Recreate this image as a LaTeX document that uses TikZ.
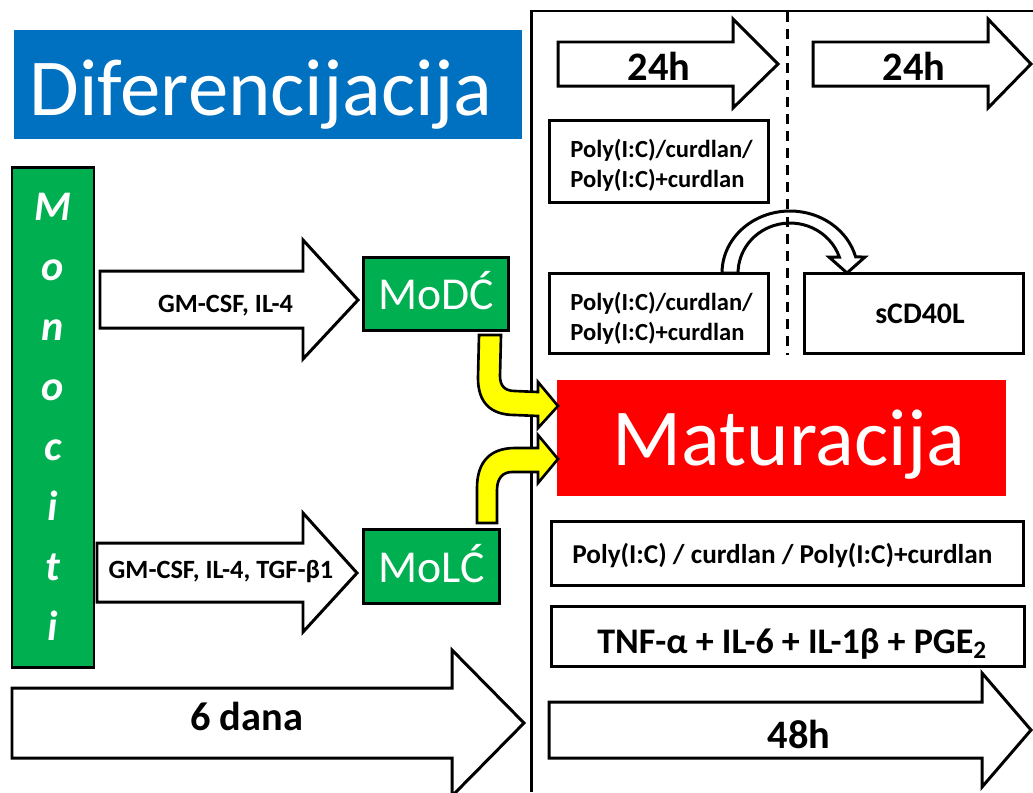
\documentclass[tikz,border=0pt]{standalone}
\usepackage{fontspec}
\setmainfont{Carlito}
\definecolor{blueT}{HTML}{0070C0}
\definecolor{greenB}{HTML}{00B050}
\definecolor{redM}{HTML}{FF0000}
\definecolor{yellowA}{HTML}{FFFF00}
\begin{document}
\begin{tikzpicture}[x=0.02cm,y=-0.02cm,
  sz/.style 2 args={minimum width=#1*0.02cm, minimum height=#2*0.02cm},
  box/.style={draw, line width=1.7pt, fill=white, inner sep=0pt},
  gbox/.style={draw, line width=1.7pt, fill=greenB, inner sep=0pt},
  blockarrow/.style={draw, line width=1.7pt, fill=white, line join=miter, miter limit=10},
  yarrow/.style={draw, line width=1.5pt, fill=yellowA, line join=miter, miter limit=10},
  frame/.style={line width=1.7pt},
  txt/.style={inner sep=0pt, anchor=base, font=\bfseries\fontsize{15}{18}\selectfont},
  big/.style={inner sep=0pt, anchor=base, text=white, font=\fontsize{46}{50}\selectfont},
  cell/.style={inner sep=0pt, anchor=base, text=white, font=\fontsize{26}{30}\selectfont},
  mono/.style={inner sep=0pt, anchor=base, text=white, font=\bfseries\itshape\fontsize{24}{28}\selectfont},
  time/.style={inner sep=0pt, anchor=base, font=\bfseries\fontsize{23}{27}\selectfont},
  small/.style={inner sep=0pt, anchor=base west, font=\bfseries\fontsize{14}{17}\selectfont},
]
\useasboundingbox (0,0) rectangle (1033,792);

% frame
\coordinate (fr) at (1033,11);
\coordinate (fc) at (531,11);
\coordinate (fb) at (531,792);
\draw[frame] (fr) -- (fc) -- (fb);

% title
\node[fill=blueT, sz={508}{109}, inner sep=0pt] (titlebox) at (268,84.5) {};
\node[big] (title) at (261,115) {Diferencijacija};

% monocytes
\node[gbox, sz={82}{500}] (mono) at (53,417) {};
\foreach \ch [count=\k from 0] in {M,o,n,o,c,i,t,i}
  \node[mono] (m\k) at (53,{220+60*\k}) {\ch};

% differentiation arrows
\draw[blockarrow] (100,271) -- (303,271) -- (303,240) -- (358,300) -- (303,359) -- (303,328) -- (100,328) -- cycle;
\node[txt] (lab1) at (225.5,312) {GM-CSF, IL-4};
\draw[blockarrow] (97,543) -- (303,543) -- (303,513) -- (357,573) -- (303,632) -- (303,602) -- (97,602) -- cycle;
\node[txt] (lab2) at (221,578) {GM-CSF, IL-4, TGF-β1};

% cell boxes
\node[gbox, sz={145}{73}] (modcbox) at (435.5,293.5) {};
\node[cell] (modc) at (436.5,309) {MoDĆ};
\node[gbox, sz={136}{74}] (molcbox) at (431,566) {};
\node[cell] (molc) at (431.5,582) {MoLĆ};

% 6 dana
\draw[blockarrow] (12,688) -- (452,688) -- (452,650) -- (524,723) -- (452,796) -- (452,758) -- (12,758) -- cycle;
\node[time] (dana) at (246.5,730) {6 dana};

% maturation
\node[fill=redM, sz={449}{116}, inner sep=0pt] (matbox) at (781.5,438) {};
\node[big] (mat) at (789,465) {Maturacija};

% yellow arrows
\draw[yarrow] (479,335) -- (478,378) .. controls (478,402) and (490,415) .. (515,415) -- (538,416) -- (538,428) -- (558,406) -- (538,382) -- (538,392) -- (515,391) .. controls (505,391) and (500,386) .. (500,376) -- (501,335) -- cycle;
\draw[yarrow] (477,523) -- (477,488) .. controls (477,462) and (490,448) .. (515,448) -- (538,448) -- (538,435) -- (558,459) -- (538,483) -- (538,472) -- (512,472) .. controls (503,472) and (497,478) .. (497,490) -- (497,523) -- cycle;

% 24h arrows
\draw[blockarrow] (558,42) -- (733,42) -- (733,19) -- (778,64) -- (733,108) -- (733,86) -- (558,86) -- cycle;
\node[time] (t1) at (659,80) {24h};
\draw[blockarrow] (813,42) -- (988,42) -- (988,19) -- (1031,64) -- (988,108) -- (988,86) -- (813,86) -- cycle;
\node[time] (t2) at (914,80) {24h};

% stimulus boxes
\node[box, sz={219}{82}] (p1) at (658.5,161) {};
\node[small] (p1a) at (570,157) {Poly(I:C)/curdlan/};
\node[small] (p1b) at (570,187) {Poly(I:C)+curdlan};
\node[box, sz={219}{80}] (p2) at (658.5,313) {};
\node[small] (p2a) at (570,310) {Poly(I:C)/curdlan/};
\node[small] (p2b) at (570,340) {Poly(I:C)+curdlan};
\node[box, sz={219}{80}] (scd) at (913.5,313) {};
\node[inner sep=0pt, anchor=base, font=\bfseries\fontsize{17}{20}\selectfont] (scdt) at (920,323) {sCD40L};

% curved arrow p2 -> sCD40L
\draw[blockarrow] (722,273) arc[start angle=180, end angle=15, x radius=1.36cm, y radius=1.24cm] -- (865,257) -- (847,273) -- (829,257) -- (839.3,257) arc[start angle=18.7, end angle=180, x radius=1.04cm, y radius=1.0cm] -- cycle;

% dashed divider
\coordinate (dt) at (787,12);
\coordinate (db) at (787,355);
\draw[line width=1.7pt, dash pattern=on 5.7pt off 4pt] (dt) -- (db);

% lower boxes
\node[box, sz={472}{64}] (p3) at (787,553) {};
\node[inner sep=0pt, anchor=base west, font=\bfseries\fontsize{15.5}{18}\selectfont] (p3t) at (572,563) {Poly(I:C) / curdlan / Poly(I:C)+curdlan};
\node[box, sz={473}{60}] (tnf) at (787.5,636) {};
\node[inner sep=0pt, anchor=base west, font=\bfseries\fontsize{20.5}{24}\selectfont] (tnft) at (597,653) {TNF-α + IL-6 + IL-1β + PGE\textsubscript{2}};

% 48h
\draw[blockarrow] (549,702) -- (982,702) -- (982,673) -- (1031,730) -- (982,787) -- (982,758) -- (549,758) -- cycle;
\node[time] (h48) at (799,748) {48h};
\end{tikzpicture}
\end{document}
